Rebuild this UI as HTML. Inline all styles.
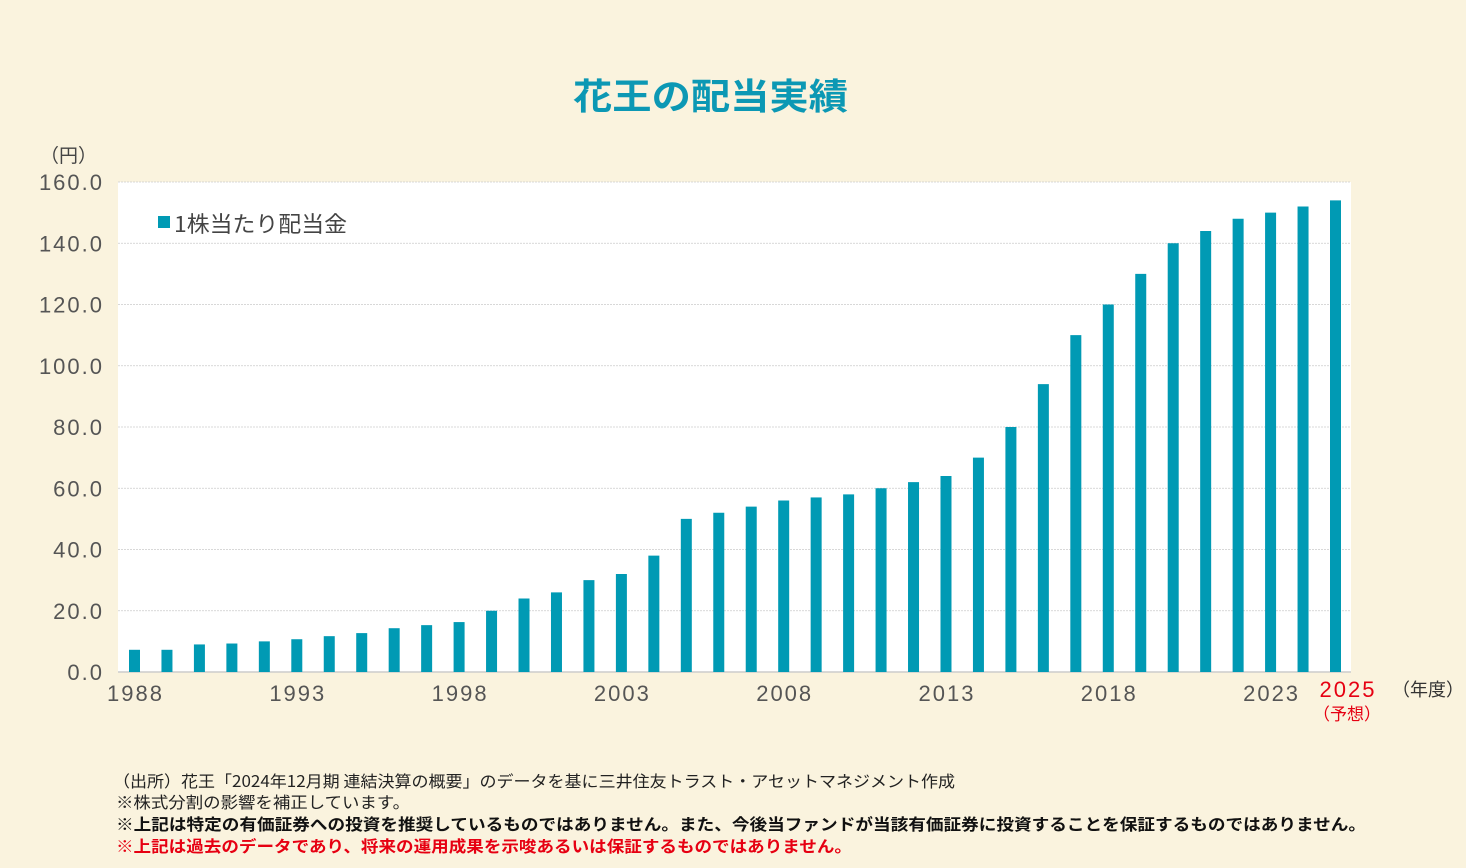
<!DOCTYPE html>
<html><head><meta charset="utf-8"><style>
body{margin:0;width:1466px;height:868px;background:#faf3de;font-family:"Liberation Sans","Noto Sans CJK JP",sans-serif;overflow:hidden}
</style></head><body>
<svg id="s" width="1466" height="868" xmlns="http://www.w3.org/2000/svg" style="position:absolute;left:0;top:0">
<text x="573" y="109" textLength="275" lengthAdjust="spacingAndGlyphs" font-size="36" font-weight="bold" fill="#0c98b4" font-family="Noto Sans CJK JP, sans-serif">花王の配当実績</text>
<text x="40" y="162" font-size="19" fill="#444" font-family="Noto Sans CJK JP, sans-serif">（円）</text>
<rect x="118" y="182" width="1233" height="490" fill="#fff"/>
<g id="grid"></g>
<line x1="118" y1="672" x2="1351" y2="672" stroke="#ccc" stroke-width="1.5"/>
<g id="bars" fill="#009ab4"></g>
<g id="lab" font-size="22" letter-spacing="2" fill="#555" font-family="Liberation Sans, sans-serif"></g>
<rect x="158" y="216" width="12" height="12" fill="#009ab4"/>
<text x="174" y="232" textLength="173" lengthAdjust="spacingAndGlyphs" font-size="22" fill="#444" font-family="Noto Sans CJK JP, sans-serif">1株当たり配当金</text>
<text x="1348" y="697" text-anchor="middle" font-size="22" letter-spacing="2" fill="#e60012" font-family="Liberation Sans, sans-serif">2025</text>
<text x="1347" y="720" text-anchor="middle" font-size="17" fill="#e60012" font-family="Noto Sans CJK JP, sans-serif">（予想）</text>
<text x="1392" y="696" font-size="18" fill="#333" font-family="Noto Sans CJK JP, sans-serif">（年度）</text>
<g font-size="16" font-family="Noto Sans CJK JP, sans-serif" lengthAdjust="spacingAndGlyphs">
<text x="113" y="787" textLength="842" lengthAdjust="spacingAndGlyphs" fill="#222">（出所）花王「2024年12月期 連結決算の概要」のデータを基に三井住友トラスト・アセットマネジメント作成</text>
<text x="116" y="808" textLength="294" lengthAdjust="spacingAndGlyphs" fill="#222">※株式分割の影響を補正しています。</text>
<text x="116" y="830" textLength="1250" lengthAdjust="spacingAndGlyphs" fill="#111" font-weight="bold">※上記は特定の有価証券への投資を推奨しているものではありません。また、今後当ファンドが当該有価証券に投資することを保証するものではありません。</text>
<text x="116" y="852" textLength="736" lengthAdjust="spacingAndGlyphs" fill="#e60012" font-weight="bold">※上記は過去のデータであり、将来の運用成果を示唆あるいは保証するものではありません。</text>
</g>
</svg>
<script>
var v=[7.25,7.25,9,9.3,10,10.7,11.7,12.7,14.3,15.3,16.3,20,24,26,30,32,38,50,52,54,56,57,58,60,62,64,70,80,94,110,120,130,140,144,148,150,152,154];
var ns="http://www.w3.org/2000/svg",k=490/160,g=document.getElementById('grid'),b=document.getElementById('bars'),l=document.getElementById('lab');
function el(t,a,p,txt){var e=document.createElementNS(ns,t);for(var i in a)e.setAttribute(i,a[i]);if(txt)e.textContent=txt;p.appendChild(e);}
for(var i=0;i<=8;i++){var y=672-i*20*k;if(i>0)el('line',{x1:118,x2:1351,y1:y,y2:y,stroke:'#ccc','stroke-dasharray':'2,1','stroke-width':0.8},g);el('text',{x:104,y:y+8,'text-anchor':'end'},l,(i*20).toFixed(1));}
for(var j=0;j<v.length;j++){var cx=134.5+j*(1335.5-134.5)/37;el('rect',{x:cx-5.5,y:672-v[j]*k,width:11,height:v[j]*k},b);
if(j%5==0)el('text',{x:cx+1,y:701,'text-anchor':'middle'},l,String(1988+j));}
</script>
</body></html>
